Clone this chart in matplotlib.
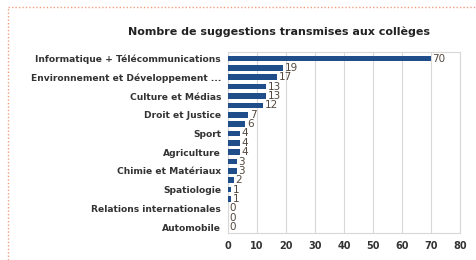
import matplotlib
matplotlib.use("Agg")
import matplotlib.pyplot as plt
from matplotlib.lines import Line2D

title = "Nombre de suggestions transmises aux collèges"
categories = [
    "Informatique + Télécommunications", "",
    "Environnement et Développement ...", "",
    "Culture et Médias", "",
    "Droit et Justice", "",
    "Sport", "",
    "Agriculture", "",
    "Chimie et Matériaux", "",
    "Spatiologie", "",
    "Relations internationales", "",
    "Automobile",
]
values = [70, 19, 17, 13, 13, 12, 7, 6, 4, 4, 4, 3, 3, 2, 1, 1, 0, 0, 0]
xticks = [0, 10, 20, 30, 40, 50, 60, 70, 80]

fig = plt.figure(figsize=(4.77, 2.60), dpi=100)
ax = fig.add_axes([0.478, 0.105, 0.486, 0.695])

y = list(range(len(values)))
ax.barh(y, values, height=0.6, color="#1f4e8a", zorder=3)
for yi, v in zip(y, values):
    ax.text(v + 0.6, yi, str(v), va="center", ha="left", fontsize=7.5,
            color="#54483e", zorder=4)

ax.set_ylim(len(values) - 0.4, -0.7)
ax.set_xlim(0, 80)
ax.set_xticks(xticks)
ax.set_xticklabels([str(t) for t in xticks], fontsize=7, color="#333333", fontweight="bold")
ax.set_yticks(y)
ax.set_yticklabels(categories, fontsize=6.6, color="#333333", fontweight="bold")
ax.tick_params(axis="both", length=0, pad=5)
ax.tick_params(axis="x", pad=6)
ax.grid(axis="x", color="#d8d8d8", linewidth=0.8, zorder=0)
for s in ax.spines.values():
    s.set_color("#d8d8d8")
    s.set_linewidth(0.8)

fig.text(0.585, 0.877, title, ha="center", va="center", fontsize=8,
         fontweight="bold", color="#222222")

# dotted orange frame
fig.add_artist(Line2D([0.017, 1.0], [0.972, 0.972], transform=fig.transFigure,
                      color="#f0a080", linestyle=(0, (1, 1.5)), linewidth=1))
fig.add_artist(Line2D([0.017, 0.017], [0.0, 0.972], transform=fig.transFigure,
                      color="#f0a080", linestyle=(0, (1, 1.5)), linewidth=1))

fig.savefig("out.png", dpi=100)
